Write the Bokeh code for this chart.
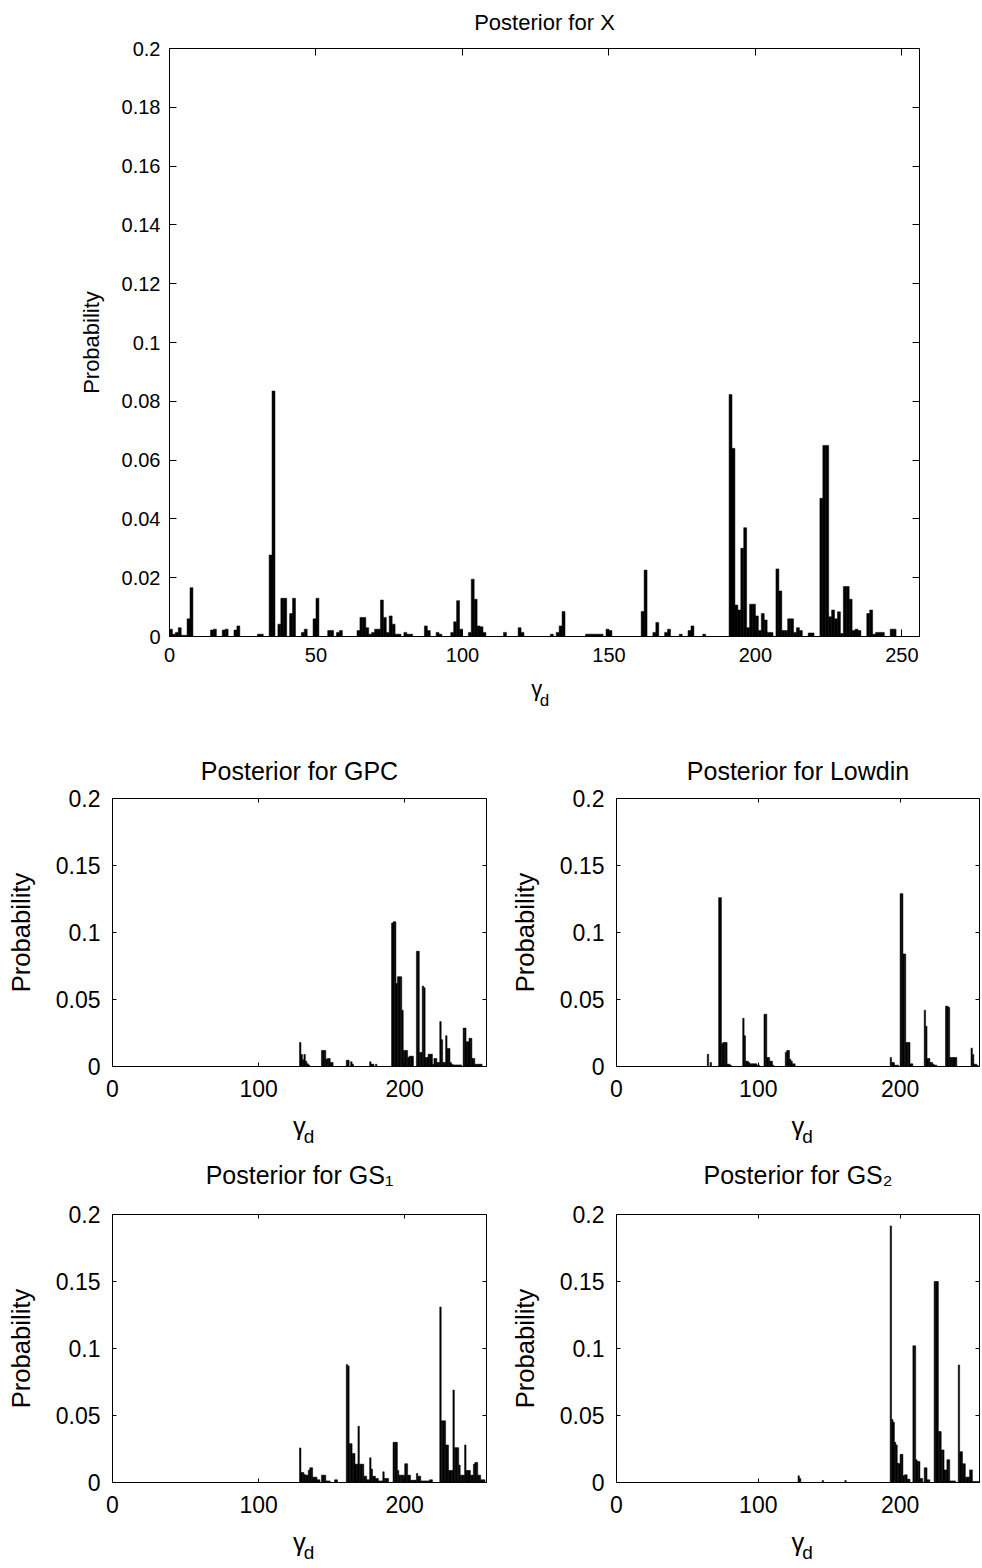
import numpy as np
from bokeh.plotting import figure
from bokeh.models import (Range1d, FixedTicker, LinearAxis, CustomJSTickFormatter,
                          ColumnDataSource, Title)
from bokeh.layouts import column, row
from bokeh.embed import file_html
from bokeh.resources import INLINE

FONT = "Liberation Sans"

# ---------------- data (bin index -> probability) ----------------
x_idx = [0, 1, 2, 3, 4, 5, 6, 7, 14, 15, 18, 19, 22, 23, 30, 31, 34, 35, 37, 38, 39, 41, 42,
         45, 46, 49, 50, 54, 55, 57, 58, 64, 65, 66, 67, 68, 69, 70, 71, 72, 73, 74, 75, 76,
         77, 78, 80, 81, 82, 87, 88, 91, 92, 96, 97, 98, 99, 102, 103, 104, 105, 106, 107,
         114, 119, 120, 130, 132, 133, 134, 142, 143, 144, 145, 146, 147, 149, 150, 161, 162,
         165, 166, 169, 170, 174, 177, 178, 182, 191, 192, 193, 194, 195, 196, 197, 198, 199,
         200, 201, 202, 203, 204, 205, 207, 208, 209, 210, 211, 212, 213, 214, 215, 218, 219,
         222, 223, 224, 225, 226, 227, 228, 229, 230, 231, 232, 233, 234, 235, 238, 239, 240,
         241, 242, 243, 246, 247]
x_val = [0.0025, 0.0008, 0.0014, 0.003, 0.0004, 0.0004, 0.006, 0.0166, 0.0022, 0.0025, 0.0022,
         0.0025, 0.0022, 0.0036, 0.0008, 0.0008, 0.0277, 0.0835, 0.0042, 0.013, 0.013, 0.0078,
         0.013, 0.0014, 0.0025, 0.006, 0.013, 0.002, 0.002, 0.0014, 0.002, 0.002, 0.0065, 0.0065,
         0.003, 0.0008, 0.0014, 0.0025, 0.0025, 0.0124, 0.0065, 0.0014, 0.007, 0.0042, 0.0008,
         0.0008, 0.0014, 0.0008, 0.0008, 0.0036, 0.002, 0.0014, 0.0008, 0.0014, 0.005, 0.0122,
         0.0025, 0.0014, 0.0195, 0.0127, 0.0036, 0.0033, 0.0014, 0.0014, 0.003, 0.0014, 0.0008,
         0.0014, 0.0036, 0.0085, 0.0008, 0.0008, 0.0008, 0.0008, 0.0008, 0.0008, 0.0025, 0.002,
         0.0085, 0.0226, 0.0014, 0.0048, 0.0014, 0.0025, 0.0008, 0.002, 0.0036, 0.0008, 0.0823,
         0.064, 0.0107, 0.009, 0.030, 0.037, 0.003, 0.011, 0.011, 0.007, 0.002, 0.0078, 0.0056,
         0.0014, 0.0014, 0.023, 0.0155, 0.002, 0.002, 0.006, 0.006, 0.0014, 0.003, 0.002, 0.0012,
         0.0012, 0.047, 0.065, 0.065, 0.0067, 0.009, 0.006, 0.0084, 0.001, 0.017, 0.017, 0.0127,
         0.002, 0.0025, 0.002, 0.0078, 0.009, 0.0008, 0.0014, 0.0014, 0.0014, 0.0025, 0.0025]

gpc_idx = [128, 129, 130, 131, 132, 133, 134, 143, 144, 145, 146, 147, 148, 149, 150, 160, 161,
           163, 164, 176, 177, 178, 180, 191, 192, 193, 194, 195, 196, 197, 198, 199, 200, 201,
           202, 203, 204, 205, 208, 209, 210, 211, 212, 213, 214, 215, 216, 217, 218, 219, 220,
           221, 222, 223, 224, 225, 226, 227, 228, 229, 230, 231, 232, 233, 234, 235, 236, 237,
           238, 240, 241, 242, 243, 244, 245, 246, 247, 248, 249, 250, 251, 252]
gpc_val = [0.018, 0.009, 0.005, 0.009, 0.004, 0.002, 0.0012, 0.012, 0.012, 0.012, 0.0055, 0.006,
           0.006, 0.003, 0.003, 0.0047, 0.0047, 0.0035, 0.0017, 0.0035, 0.0017, 0.0017, 0.0017,
           0.107, 0.108, 0.108, 0.062, 0.067, 0.067, 0.067, 0.042, 0.012, 0.012, 0.012, 0.0067,
           0.0077, 0.0077, 0.0077, 0.086, 0.086, 0.0105, 0.0105, 0.060, 0.0587, 0.0067, 0.0067,
           0.0092, 0.0092, 0.0092, 0.0017, 0.006, 0.006, 0.003, 0.003, 0.0335, 0.020, 0.003, 0.003,
           0.023, 0.0135, 0.0135, 0.003, 0.0017, 0.0012, 0.0012, 0.0012, 0.0012, 0.0012, 0.0012,
           0.0287, 0.0287, 0.0185, 0.0185, 0.021, 0.021, 0.006, 0.006, 0.0017, 0.0017, 0.0017,
           0.0017, 0.0017]

low_idx = [64, 66, 72, 73, 74, 75, 76, 77, 78, 79, 80, 89, 90, 91, 92, 93, 94, 95, 96, 97, 98,
           99, 100, 104, 105, 106, 107, 108, 109, 110, 119, 120, 121, 122, 123, 124, 125, 193,
           194, 195, 196, 197, 198, 200, 201, 202, 203, 204, 205, 206, 207, 208, 217, 218, 219,
           220, 221, 222, 223, 224, 225, 232, 233, 234, 235, 236, 237, 238, 239, 250, 251, 252,
           253, 254]
low_val = [0.0092, 0.003, 0.126, 0.126, 0.017, 0.018, 0.018, 0.018, 0.0017, 0.0017, 0.001,
           0.036, 0.023, 0.004, 0.004, 0.003, 0.002, 0.002, 0.002, 0.002, 0.002, 0.001, 0.001,
           0.039, 0.039, 0.0067, 0.0067, 0.004, 0.004, 0.001, 0.0105, 0.012, 0.012, 0.0055, 0.004,
           0.002, 0.002, 0.0067, 0.003, 0.003, 0.001, 0.001, 0.001, 0.129, 0.129, 0.084, 0.084,
           0.018, 0.018, 0.018, 0.002, 0.002, 0.042, 0.030, 0.006, 0.006, 0.003, 0.003, 0.0017,
           0.001, 0.001, 0.045, 0.045, 0.044, 0.0067, 0.0067, 0.0067, 0.0067, 0.0067, 0.0137,
           0.009, 0.0017, 0.0017, 0.001]

gs1_idx = [128, 129, 130, 131, 132, 133, 134, 135, 136, 137, 138, 139, 140, 141, 143, 144, 145,
           146, 147, 148, 152, 153, 160, 161, 162, 163, 164, 165, 166, 167, 168, 169, 170, 171,
           172, 173, 174, 175, 176, 177, 178, 179, 180, 181, 182, 183, 184, 185, 186, 187, 188,
           192, 193, 194, 195, 196, 197, 198, 199, 200, 201, 202, 203, 204, 205, 206, 207, 208,
           209, 210, 211, 212, 213, 214, 215, 216, 217, 218, 224, 225, 226, 227, 228, 229, 230,
           231, 232, 233, 234, 235, 236, 237, 238, 239, 240, 241, 242, 243, 244, 245, 246, 247,
           248, 249, 250, 251, 252, 253, 254]
gs1_val = [0.0258, 0.0075, 0.0075, 0.006, 0.0055, 0.0055, 0.0092, 0.011, 0.011, 0.004, 0.004,
           0.004, 0.002, 0.002, 0.0055, 0.0055, 0.0055, 0.0012, 0.0012, 0.0012, 0.002, 0.002,
           0.088, 0.087, 0.029, 0.029, 0.0216, 0.0216, 0.0137, 0.0137, 0.042, 0.0137, 0.0137,
           0.0137, 0.0047, 0.0047, 0.002, 0.002, 0.0184, 0.010, 0.0047, 0.0047, 0.003, 0.003,
           0.0012, 0.0012, 0.0012, 0.008, 0.003, 0.003, 0.003, 0.030, 0.030, 0.030, 0.009, 0.0055,
           0.0055, 0.0055, 0.0055, 0.014, 0.014, 0.0055, 0.0055, 0.0017, 0.0017, 0.0017, 0.0017,
           0.0067, 0.0047, 0.0047, 0.0012, 0.0012, 0.0012, 0.0012, 0.0012, 0.0012, 0.002, 0.002,
           0.131, 0.046, 0.046, 0.046, 0.028, 0.028, 0.009, 0.009, 0.009, 0.069, 0.026, 0.026,
           0.026, 0.013, 0.0055, 0.0055, 0.0055, 0.028, 0.009, 0.009, 0.009, 0.0055, 0.0055,
           0.0137, 0.015, 0.015, 0.0055, 0.0055, 0.002, 0.002, 0.002]

gs2_idx = [128, 129, 145, 161, 193, 194, 195, 196, 197, 198, 199, 200, 201, 202, 203, 204, 205,
           206, 209, 210, 211, 212, 213, 214, 215, 217, 218, 219, 220, 224, 225, 226, 227, 228,
           229, 230, 231, 232, 233, 234, 235, 236, 237, 238, 241, 242, 243, 244, 245, 246, 247,
           248, 249, 250, 251, 252, 253, 254, 255]
gs2_val = [0.005, 0.003, 0.0015, 0.0015, 0.1915, 0.047, 0.045, 0.030, 0.028, 0.0144, 0.014,
           0.021, 0.021, 0.005, 0.0057, 0.0057, 0.0025, 0.0025, 0.102, 0.102, 0.017, 0.0157,
           0.0157, 0.003, 0.003, 0.011, 0.011, 0.002, 0.002, 0.150, 0.150, 0.150, 0.038, 0.038,
           0.0243, 0.0243, 0.0094, 0.0094, 0.017, 0.017, 0.0012, 0.0012, 0.0012, 0.0012, 0.0877,
           0.023, 0.023, 0.014, 0.014, 0.004, 0.004, 0.004, 0.0094, 0.0094, 0.0008, 0.0008,
           0.0008, 0.0008, 0.0008]

titles = ["Posterior for X", "Posterior for GPC", "Posterior for Lowdin",
          "Posterior for GS\u2081", "Posterior for GS\u2082"]
x_label_main = "\u03b3"
x_label_sub = "d"
y_label = "Probability"

x_lim = [0, 256]
y_lim = [0, 0.2]
top_xticks = [0, 50, 100, 150, 200, 250]
top_yticks = [0, 0.02, 0.04, 0.06, 0.08, 0.1, 0.12, 0.14, 0.16, 0.18, 0.2]
small_xticks = [0, 100, 200]
small_yticks = [0, 0.05, 0.1, 0.15, 0.2]

YFMT = "return tick.toFixed(2).replace(/0+$/,'').replace(/\\.$/,'');"


def make_plot(idx, val, title, fw, fh, bl, br, bt, bb, xticks, yticks, tick_fs, lab_fs, sub_fs,
              tlen, tick_std, ylab_std, xtick_std, title_gap, title_fs,
              g_text, g_std, d_text, d_std):
    p = figure(frame_width=fw, frame_height=fh,
               x_range=Range1d(*x_lim), y_range=Range1d(*y_lim),
               output_backend="svg", toolbar_location=None,
               min_border_left=bl, min_border_right=br, min_border_top=bt, min_border_bottom=bb)
    p.background_fill_color = "white"
    p.border_fill_color = "white"
    p.outline_line_color = "black"
    p.outline_line_width = 1
    p.xgrid.visible = False
    p.ygrid.visible = False
    p.title.visible = False
    ia = np.array(idx, dtype=float)
    src = ColumnDataSource(dict(left=ia, right=ia + 1, top=np.array(val), bottom=np.zeros(len(ia))))
    p.quad(left="left", right="right", top="top", bottom="bottom", source=src,
           fill_color="black", line_color="black", line_width=0.5)

    xa = p.below[0]
    xa.ticker = FixedTicker(ticks=xticks)
    ya = p.left[0]
    ya.ticker = FixedTicker(ticks=yticks)
    ya.formatter = CustomJSTickFormatter(code=YFMT)
    for ax in (xa, ya):
        ax.major_tick_in = tlen
        ax.major_tick_out = 0
        ax.minor_tick_line_color = None
        ax.axis_line_color = "black"
        ax.major_tick_line_color = "black"
        ax.major_label_text_font = FONT
        ax.major_label_text_font_size = f"{tick_fs}px"
        ax.major_label_text_color = "black"
        ax.axis_label_text_font = FONT
        ax.axis_label_text_font_style = "normal"
        ax.axis_label_text_color = "black"
    xa.major_label_standoff = xtick_std
    ya.major_label_standoff = tick_std
    ya.axis_label = y_label
    ya.axis_label_text_font_size = f"{lab_fs}px"
    ya.axis_label_standoff = ylab_std
    xa.axis_label = g_text
    xa.axis_label_text_font_size = f"{lab_fs}px"
    xa.axis_label_standoff = g_std

    # mirrored tick marks on top and right (box on)
    for loc, tk in (("above", xticks), ("right", yticks)):
        ax = LinearAxis(ticker=FixedTicker(ticks=tk), major_tick_in=tlen, major_tick_out=0,
                        minor_tick_line_color=None, axis_line_color=None,
                        major_tick_line_color="black", major_label_text_font_size="1px",
                        major_label_text_color=None, major_label_standoff=0)
        p.add_layout(ax, loc)

    # invisible spacer between frame and title
    spacer = LinearAxis(ticker=FixedTicker(ticks=[xticks[0]]), major_tick_in=0,
                        major_tick_out=title_gap, major_tick_line_color=None,
                        minor_tick_line_color=None, axis_line_color=None,
                        major_label_text_font_size="1px", major_label_text_color=None,
                        major_label_standoff=0)
    p.add_layout(spacer, "above")

    p.add_layout(Title(text=title, align="center", text_font=FONT, text_font_style="normal",
                       text_font_size=f"{title_fs}px", text_color="black", standoff=0), "above")

    # subscript of the x label, carried by a bare second bottom axis
    sub_ax = LinearAxis(ticker=FixedTicker(ticks=[]), axis_line_color=None,
                        major_tick_line_color=None, minor_tick_line_color=None,
                        major_label_text_font_size="1px", major_label_text_color=None,
                        major_label_standoff=0, axis_label=d_text,
                        axis_label_text_font=FONT, axis_label_text_font_style="normal",
                        axis_label_text_font_size=f"{sub_fs}px", axis_label_text_color="black",
                        axis_label_standoff=d_std)
    p.add_layout(sub_ax, "below")
    return p


# ---- top plot ----
top = make_plot(x_idx, x_val, titles[0], 750, 588, 169, 63, 48, 84, top_xticks, top_yticks,
                20, 22, 17, 7, 9, 15, 11, 14, 22,
                x_label_main + "\u2002\u2009", 11, x_label_sub, -13)

# ---- small plots ----
def small(idx, val, title, right_col, row2, title_gap):
    fw = 363 if right_col else 374
    bl = 111 if right_col else 112
    br = 3 if right_col else 19
    bt = 60 if row2 else 78
    bb = 86 if row2 else 88
    return make_plot(idx, val, title, fw, 268, bl, br, bt, bb, small_xticks, small_yticks,
                     23, 25.6, 19, 4, 12, 18, 13, title_gap, 25,
                     x_label_main, 12, "\u2003" + x_label_sub, -17)

gpc = small(gpc_idx, gpc_val, titles[1], False, False, 14)
low = small(low_idx, low_val, titles[2], True, False, 14)
gs1 = small(gs1_idx, gs1_val, titles[3], False, True, 26)
gs2 = small(gs2_idx, gs2_val, titles[4], True, True, 26)

layout = column(top, row(gpc, low), row(gs1, gs2))
open("out.html", "w").write(file_html(layout, INLINE))
